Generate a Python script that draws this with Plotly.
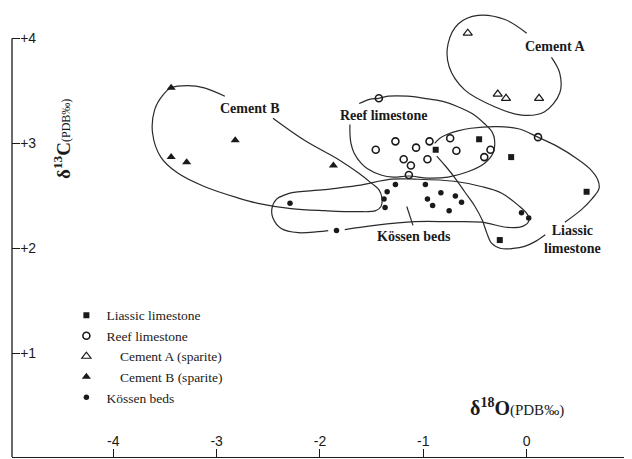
import plotly.graph_objects as go

# ---------------- data (delta18O, delta13C) ----------------
liassic_x = [-0.88, -0.46, -0.15, 0.58, -0.26]
liassic_y = [2.94, 3.04, 2.87, 2.54, 2.08]

reef_x = [-1.43, -1.46, -1.27, -1.07, -0.94, -1.19, -1.12, -0.96, -1.14, -0.74, -0.68, -0.35, -0.41, 0.11]
reef_y = [3.43, 2.94, 3.02, 2.96, 3.02, 2.85, 2.79, 2.85, 2.70, 3.05, 2.93, 2.94, 2.87, 3.06]

cemA_x = [-0.57, -0.28, -0.20, 0.12]
cemA_y = [4.05, 3.47, 3.43, 3.43]

cemB_x = [-3.44, -2.82, -3.44, -3.29, -1.87]
cemB_y = [3.53, 3.03, 2.87, 2.82, 2.79]

kossen_x = [-1.27, -0.98, -1.35, -1.38, -1.37, -0.96, -0.91, -0.83, -0.69, -0.63, -0.75, -1.84, -0.05, 0.02, -2.29]
kossen_y = [2.61, 2.61, 2.54, 2.47, 2.39, 2.47, 2.41, 2.53, 2.50, 2.44, 2.36, 2.17, 2.34, 2.29, 2.43]

# hand-drawn field outlines (data units)
envA_x = [0.00, -0.21, -0.47, -0.66, -0.76, -0.75, -0.60, -0.31, -0.05, 0.17, 0.32, 0.32, 0.24]
envA_y = [4.05, 4.18, 4.22, 4.14, 3.95, 3.73, 3.51, 3.35, 3.27, 3.30, 3.48, 3.67, 3.82]

envB_x = [-2.455, -2.15, -1.81, -1.63, -1.50, -1.43, -1.40, -1.41, -1.46, -1.63, -1.955, -2.28, -2.60,
          -2.79, -3.12, -3.38, -3.54, -3.62, -3.60, -3.52, -3.44, -3.28, -3.12, -2.92]
envB_y = [3.24, 3.03, 2.84, 2.72, 2.62, 2.56, 2.48, 2.40, 2.36, 2.35, 2.36, 2.38, 2.43,
          2.48, 2.59, 2.72, 2.87, 3.10, 3.32, 3.46, 3.53, 3.55, 3.53, 3.45]

envK_x = [-1.92, -2.02, -2.21, -2.375, -2.455, -2.465, -2.42, -2.34, -2.28, -1.955, -1.63, -1.31, -1.08,
          -0.70, -0.44, -0.25, -0.08, 0.01, 0.02, -0.04, -0.18, -0.44, -0.76, -1.08, -1.47, -1.76]
envK_y = [2.17, 2.16, 2.15, 2.19, 2.29, 2.38, 2.47, 2.51, 2.53, 2.56, 2.60, 2.66, 2.66,
          2.64, 2.59, 2.53, 2.41, 2.32, 2.26, 2.21, 2.20, 2.25, 2.255, 2.255, 2.22, 2.18]

envR_x = [-1.62, -1.52, -1.43, -1.34, -1.15, -0.99, -0.81, -0.665, -0.52, -0.41, -0.335, -0.31, -0.325,
          -0.41, -0.57, -0.76, -0.955, -1.14, -1.29, -1.41, -1.54, -1.60, -1.67, -1.70, -1.71, -1.71]
envR_y = [3.38, 3.42, 3.43, 3.45, 3.45, 3.43, 3.40, 3.35, 3.28, 3.19, 3.11, 3.03, 2.91,
          2.81, 2.73, 2.68, 2.67, 2.69, 2.68, 2.70, 2.76, 2.81, 2.91, 3.00, 3.10, 3.18]

envL1_x = [-0.89, -0.84, -0.76, -0.665, -0.54, -0.28, -0.08, 0.11, 0.30, 0.48, 0.61, 0.69, 0.70, 0.63, 0.53, 0.37]
envL1_y = [3.00, 3.05, 3.09, 3.12, 3.145, 3.16, 3.14, 3.06, 2.97, 2.86, 2.76, 2.65, 2.57, 2.47, 2.37, 2.25]

envL2_x = [-0.87, -0.79, -0.70, -0.60, -0.50, -0.43, -0.39, -0.34, -0.25, -0.13, -0.02, 0.09, 0.18]
envL2_y = [2.88, 2.79, 2.68, 2.54, 2.40, 2.27, 2.16, 2.05, 2.00, 2.00, 2.02, 2.07, 2.13]

leaderK_x = [-1.16, -1.10]
leaderK_y = [2.40, 2.22]

x_ticks = [-4, -3, -2, -1, 0, 1]
x_ticktext = ["-4", "-3", "-2", "-1", "0", "+1"]
y_ticks = [1, 2, 3, 4]
y_ticktext = ["+1", "+2", "+3", "+4"]

SERIF = "Liberation Serif, Times New Roman, serif"
SANS = "Liberation Sans, Arial, sans-serif"
INK = "#1a1a1a"
IND = "\u00a0" * 4

fig = go.Figure()

# outlines
for ex, ey in [(envA_x, envA_y), (envB_x, envB_y), (envK_x, envK_y), (envR_x, envR_y),
               (envL1_x, envL1_y), (envL2_x, envL2_y), (leaderK_x, leaderK_y)]:
    fig.add_trace(go.Scatter(x=ex, y=ey, mode="lines",
                             line=dict(color="#2a2a2a", width=1.2, shape="spline", smoothing=1.0),
                             showlegend=False, hoverinfo="skip", cliponaxis=False))

# points
fig.add_trace(go.Scatter(x=liassic_x, y=liassic_y, mode="markers", name="Liassic limestone",
                         marker=dict(symbol="square", size=6, color=INK)))
fig.add_trace(go.Scatter(x=reef_x, y=reef_y, mode="markers", name="Reef limestone",
                         marker=dict(symbol="circle-open", size=7, color=INK, line=dict(width=1.6))))
fig.add_trace(go.Scatter(x=cemA_x, y=cemA_y, mode="markers", name=IND + "Cement A (sparite)",
                         marker=dict(symbol="triangle-up-open", size=8, color=INK, line=dict(width=1.2))))
fig.add_trace(go.Scatter(x=cemB_x, y=cemB_y, mode="markers", name=IND + "Cement B (sparite)",
                         marker=dict(symbol="triangle-up", size=8, color=INK)))
fig.add_trace(go.Scatter(x=kossen_x, y=kossen_y, mode="markers", name="Kössen beds",
                         marker=dict(symbol="circle", size=5.5, color=INK)))

label_font = dict(family=SERIF, size=14, color=INK)
labels = [
    (0.27, 3.92, "<b>Cement A</b>"),
    (-2.68, 3.335, "<b>Cement B</b>"),
    (-1.39, 3.27, "<b>Reef limestone</b>"),
    (-1.09, 2.11, "<b>Kössen beds</b>"),
    (0.44, 2.085, "<b>Liassic</b><br><b>limestone</b>"),
]
for lx, ly, lt in labels:
    fig.add_annotation(x=lx, y=ly, xref="x", yref="y", text=lt, showarrow=False,
                       font=label_font, align="center")

# axis titles
fig.add_annotation(x=-4.49, y=3.04, xref="x", yref="y", textangle=-90, showarrow=False,
                   text="<b>δ<sup>13</sup>C</b><span style='font-size:12px'>(PDB‰)</span>",
                   font=dict(family=SERIF, size=19, color=INK))
fig.add_annotation(x=-0.09, y=0.49, xref="x", yref="y", showarrow=False,
                   text="<b>δ<sup>18</sup>O</b><span style='font-size:15px'>(PDB‰)</span>",
                   font=dict(family=SERIF, size=20, color=INK))

# y axis line from bottom up to +4
fig.add_shape(type="line", xref="paper", x0=0, x1=0, yref="y", y0=0.014, y1=4,
              line=dict(color=INK, width=1.3))

# page body has an 8px margin; figure is sized to fill the rest of the window
fig.update_layout(
    width=624, height=451,
    margin=dict(l=4, r=2, t=0, b=2),
    paper_bgcolor="white", plot_bgcolor="white",
    showlegend=True,
    legend=dict(x=0.088, y=0.35, xanchor="left", yanchor="top",
                font=dict(family=SERIF, size=13.5, color=INK),
                bgcolor="rgba(0,0,0,0)", borderwidth=0, itemwidth=30),
    xaxis=dict(range=[-4.98, 1.0], showgrid=False, zeroline=False, showline=True,
               linecolor=INK, linewidth=1.3, ticks="inside", ticklen=8, tickwidth=1.2,
               tickcolor=INK, tickvals=x_ticks, ticktext=x_ticktext,
               ticklabelposition="inside", tickfont=dict(family=SANS, size=14, color=INK)),
    yaxis=dict(range=[0.014, 4.29], showgrid=False, zeroline=False, showline=False,
               ticks="inside", ticklen=8, tickwidth=1.2, tickcolor=INK,
               tickvals=y_ticks, ticktext=y_ticktext,
               ticklabelposition="inside", tickfont=dict(family=SANS, size=14, color=INK)),
)

fig.write_html("out.html")
